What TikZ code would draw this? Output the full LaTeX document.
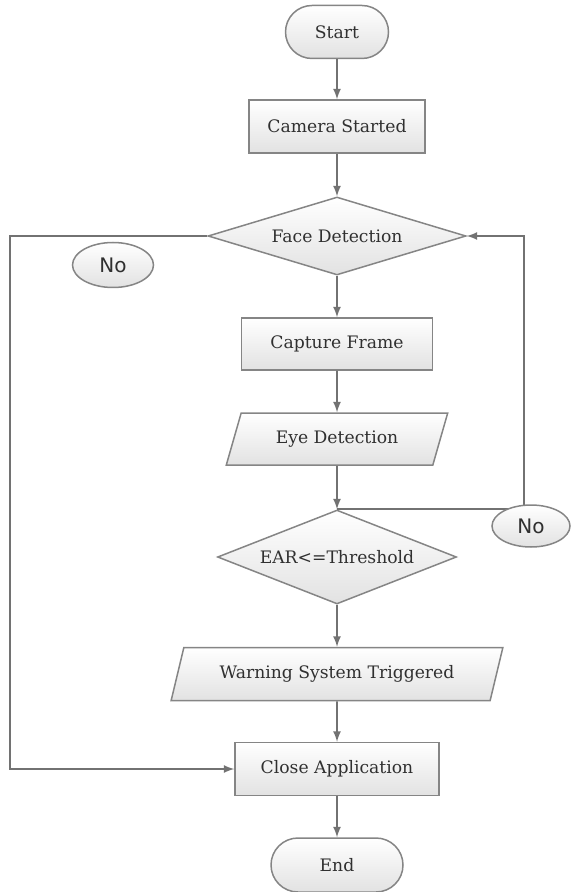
\documentclass[tikz,border=0pt]{standalone}
\usepackage{fontspec}
\setmainfont{DejaVu Serif}
\newfontfamily\labelfont{DejaVu Sans}
\usetikzlibrary{shapes.geometric,shapes.misc,arrows}
\definecolor{edgegray}{HTML}{858585}
\definecolor{linegray}{HTML}{727272}
\definecolor{textgray}{HTML}{303030}
\definecolor{fillgray}{HTML}{E2E2E2}
\tikzset{
	box/.style={draw=edgegray, line width=0.75pt, top color=white, bottom color=fillgray, text=textgray, font=\fontsize{8.6}{10}\selectfont, inner sep=0pt},
	terminal/.style={box, rounded rectangle, minimum height=26.5pt},
	process/.style={box, rectangle, minimum height=26.5pt},
	decision/.style={box, diamond, aspect=3},
	io/.style={box, trapezium, trapezium left angle=60, trapezium right angle=120, trapezium stretches=true, minimum height=26pt},
	answer/.style={draw=edgegray, line width=0.75pt, top color=white, bottom color=fillgray, ellipse, inner sep=0pt, text=textgray, font=\labelfont\fontsize{10}{12}\selectfont},
	flow/.style={draw=linegray, line width=0.8pt, ->, >=latex}
}
\begin{document}
\begin{tikzpicture}[x=0.5pt, y=-0.5pt]
	\useasboundingbox (0,0) rectangle (570,892);
	% main column
	\node[terminal, minimum width=51.5pt] (start) at (337,32) {Start};
	\node[process, minimum width=88pt] (cam) at (337,126.5) {Camera Started};
	\node[decision, minimum width=129pt, minimum height=39pt] (face) at (337,236) {Face Detection};
	\node[process, minimum width=95.5pt, minimum height=26pt] (cap) at (337,344) {Capture Frame};
	\node[io, minimum width=111pt] (eye) at (337,439) {Eye Detection};
	\node[decision, minimum width=119.5pt, minimum height=47pt] (ear) at (337,557) {EAR<=Threshold};
	\node[io, minimum width=166pt, minimum height=26.5pt] (warn) at (337,674) {Warning System Triggered};
	\node[process, minimum width=102pt] (close) at (337,769) {Close Application};
	\node[terminal, minimum width=66pt, minimum height=27pt] (end) at (337,865) {End};
	% bends of the two loops
	\coordinate (lft) at (10,500);
	\coordinate (rgt) at (524,400);
	\draw[flow] (start) -- (cam);
	\draw[flow] (cam) -- (face);
	\draw[flow] (face) -- (cap);
	\draw[flow] (cap) -- (eye);
	\draw[flow] (eye) -- (ear);
	\draw[flow] (ear) -- (warn);
	\draw[flow] (warn) -- (close);
	\draw[flow] (close) -- (end);
	\draw[flow] (face.west) -| (lft) |- (close.west);
	\draw[flow] (ear.north) -| (rgt) |- (face.east);
	% answers
	\node[answer, minimum width=40.5pt, minimum height=22.5pt] (nol) at (113,265) {No};
	\node[answer, minimum width=39pt, minimum height=21pt] (nor) at (531,526) {No};
\end{tikzpicture}
\end{document}
